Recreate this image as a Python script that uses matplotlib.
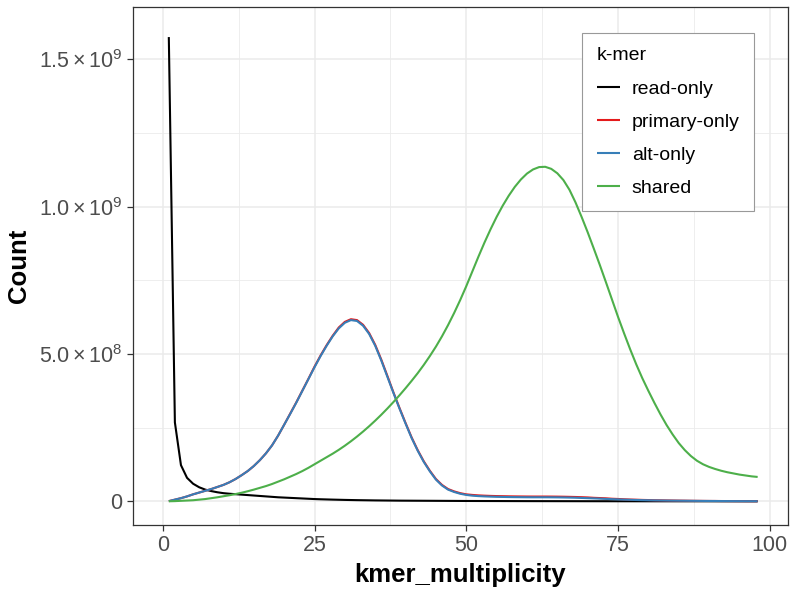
import matplotlib
matplotlib.use('Agg')
import matplotlib.pyplot as plt
import numpy as np

plt.rcParams['font.family'] = ['Liberation Sans', 'DejaVu Sans']
plt.rcParams['mathtext.fontset'] = 'custom'
plt.rcParams['mathtext.rm'] = 'Liberation Sans'
plt.rcParams['mathtext.it'] = 'Liberation Sans:italic'

# kmer multiplicity 1..98
kmer_multiplicity = list(range(1, 99))

# counts in millions
read_only = [1575, 268, 123, 80, 60, 48, 40, 35, 31, 28,
             26, 24.5, 23, 21.5, 20, 18.5, 17, 15.5, 14, 13,
             12, 11, 10, 9, 8, 7.3, 6.7, 6.1, 5.6, 5.1,
             4.7, 4.3, 4, 3.7, 3.4, 3.2, 3, 2.8, 2.6, 2.5,
             2.4, 2.3, 2.2, 2.1, 2, 1.9, 1.8, 1.7, 1.6, 1.5,
             1.45, 1.4, 1.35, 1.3, 1.25, 1.2, 1.15, 1.1, 1.05, 1,
             0.97, 0.94, 0.91, 0.88, 0.85, 0.82, 0.79, 0.76, 0.73, 0.7,
             0.68, 0.66, 0.64, 0.62, 0.6, 0.58, 0.56, 0.54, 0.52, 0.5,
             0.49, 0.48, 0.47, 0.46, 0.45, 0.44, 0.43, 0.42, 0.41, 0.4,
             0.39, 0.38, 0.37, 0.36, 0.35, 0.34, 0.33, 0.32]
primary_only = [1, 6, 11, 17, 24, 30, 36, 42, 49, 56,
                65, 76, 89, 103, 120, 140, 163, 190, 223, 260,
                298, 336, 376, 416, 457, 495, 530, 562, 590, 609,
                618, 615, 599, 571, 531, 481, 426, 370, 317, 266,
                217, 174, 136, 104, 76, 56, 42, 34, 28, 24,
                22, 20.5, 19.5, 18.7, 18.1, 17.7, 17.3, 17, 16.8, 16.6,
                16.5, 16.5, 16.5, 16.4, 16.2, 15.9, 15.5, 15, 14.3, 13.5,
                12.2, 11.4, 10.5, 9.1, 8.3, 7.2, 6.4, 5.8, 5.1, 4.6,
                4.0, 3.7, 3.3, 3.0, 2.7, 2.5, 2.2, 2.0, 1.8, 1.6,
                1.5, 1.3, 1.2, 1.1, 1.0, 0.9, 0.8, 0.75]
alt_only = [1, 6, 11, 17, 24, 30, 36, 42, 49, 56,
            65, 76, 89, 103, 120, 140, 163, 190, 223, 260,
            297, 335, 375, 415, 455, 493, 528, 560, 587, 606,
            615, 612, 596, 568, 528, 478, 423, 368, 315, 264,
            215, 172, 134, 102, 74, 54, 40, 32, 26, 22,
            19.5, 18, 17, 16.2, 15.6, 15.2, 14.8, 14.5, 14.3, 14.1,
            14, 14, 14, 13.9, 13.7, 13.4, 13, 12.5, 11.8, 11,
            10.2, 9.4, 8.5, 7.6, 6.8, 6, 5.4, 4.8, 4.3, 3.9,
            3.5, 3.2, 2.9, 2.6, 2.4, 2.2, 2, 1.8, 1.6, 1.5,
            1.4, 1.2, 1.1, 1, 0.9, 0.8, 0.75, 0.7]
shared = [0.5, 1, 2, 3, 4, 6, 8, 11, 14, 17.5,
          21, 25, 29.5, 34.5, 40, 46, 52, 59, 67, 75,
          84, 93, 103, 114, 126, 138, 150, 162, 175, 189,
          204, 220, 237, 255, 274, 294, 315, 337, 360, 384,
          409, 435, 463, 493, 525, 560, 598, 639, 683, 730,
          780, 830, 878, 923, 965, 1003, 1037, 1067, 1092, 1112,
          1126, 1134, 1135, 1128, 1113, 1090, 1057, 1014, 965, 913,
          858, 802, 744, 685, 626, 570, 516, 465, 418, 375,
          334, 295, 259, 227, 198, 174, 154, 138, 126, 117,
          110, 104, 99, 95, 91, 88, 85, 83]

series_names = ['read-only', 'primary-only', 'alt-only', 'shared']
series_colors = ['#000000', '#E41A1C', '#377EB8', '#4DAF4A']

y_ticks = [0, 5e8, 1e9, 1.5e9]
y_tick_labels = ['0', r'$5.0\times10^{8}$', r'$1.0\times10^{9}$', r'$1.5\times10^{9}$']
x_ticks = [0, 25, 50, 75, 100]

fig = plt.figure(figsize=(7.94, 5.94), dpi=100)
ax = fig.add_axes([133 / 794, 1 - 525 / 594, 655 / 794, 518 / 594])

x = np.array(kmer_multiplicity)
for name, vals, col in zip(series_names, [read_only, primary_only, alt_only, shared], series_colors):
    ax.plot(x, np.array(vals) * 1e6, color=col, lw=1.5, label=name, zorder=3,
            solid_capstyle='butt', solid_joinstyle='round')

ax.set_xlim(-4.9, 103)
ax.set_ylim(-8.0e7, 1.677e9)
ax.set_xticks(x_ticks)
ax.set_xticklabels([str(t) for t in x_ticks])
ax.set_yticks(y_ticks)
ax.set_yticklabels(y_tick_labels)
ax.set_xticks([12.5, 37.5, 62.5, 87.5], minor=True)
ax.set_yticks([2.5e8, 7.5e8, 1.25e9], minor=True)

ax.grid(which='major', color='#EBEBEB', lw=1.1, zorder=0)
ax.grid(which='minor', color='#EBEBEB', lw=0.6, zorder=0)
ax.set_axisbelow(True)
ax.tick_params(which='major', length=4.5, width=0.9, color='#333333',
               labelcolor='#4D4D4D', labelsize=15.5, pad=3)
ax.tick_params(which='minor', length=0)
for s in ax.spines.values():
    s.set_color('#333333')
    s.set_linewidth(0.9)

ax.set_xlabel('kmer_multiplicity', fontsize=18.5, fontweight='bold', labelpad=5)
ax.set_ylabel('Count', fontsize=18.5, fontweight='bold', labelpad=6)

leg = ax.legend(title='k-mer', loc='upper right', bbox_to_anchor=(754 / 794, 1 - 33 / 594),
                bbox_transform=fig.transFigure, borderaxespad=0, fancybox=False,
                edgecolor='#999999', framealpha=1, fontsize=14, title_fontsize=14,
                handlelength=1.2, handletextpad=0.6, labelspacing=0.8,
                borderpad=0.74)
leg._legend_box.align = 'left'
leg.get_frame().set_linewidth(0.8)

fig.savefig('out.png', dpi=100)
